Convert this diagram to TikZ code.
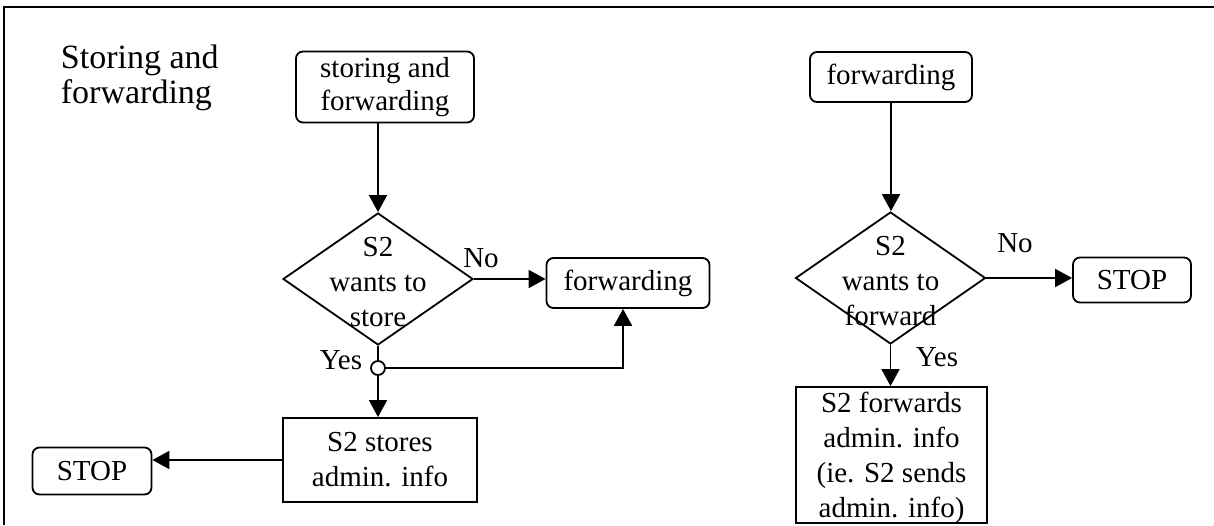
\documentclass[tikz,border=0pt]{standalone}
\usepackage{fontspec}
\setmainfont{Liberation Serif}
\usetikzlibrary{shapes.geometric,arrows.meta}
\begin{document}
\begin{tikzpicture}[x=1pt,y=-1pt,line width=1.8pt,
    every node/.style={font=\fontsize{29}{35}\selectfont,inner sep=0pt},
    rbox/.style={draw,rounded corners=7pt,align=center},
    sbox/.style={draw,align=center},
    decide/.style={draw,diamond,minimum width=190pt,minimum height=132pt},
    txt/.style={align=center},
    arr/.style={-{Triangle[length=17pt,width=18pt]}}]

    \useasboundingbox (0,0) rectangle (1214,525);
    \draw[line width=2.5pt] (1214,7) -- (4,7) -- (4,525);

    \node (title) at (60,44) [anchor=north west,align=left,
        font=\fontsize{34}{35}\selectfont] {Storing and\\forwarding};

    % left flow
    \node (sf) at (385,87) [rbox,minimum width=178pt,minimum height=71pt,
        font=\fontsize{29}{33}\selectfont] {storing and\\forwarding};
    \node (d1) at (378,279) [decide] {};
    \node (d1txt) at (378,282) [txt] {S2\\wants to\\store};
    \node (fw1) at (628,283) [rbox,minimum width=163pt,minimum height=50pt] {forwarding};
    \node (yesdot) at (378,368) [circle,draw,fill=white,minimum size=14pt] {};
    \node (store) at (380,460) [sbox,minimum width=194pt,minimum height=84pt,
        font=\fontsize{29}{35}\selectfont] {S2 stores\\admin. info};
    \node (stop1) at (92,471) [rbox,minimum width=119pt,minimum height=47pt] {STOP};
    \node (no1) at (481,258) {No};
    \node (yes1) at (341,360) {Yes};

    % right flow
    \node (fw2) at (891,77) [rbox,minimum width=162pt,minimum height=50pt] {forwarding};
    \node (d2) at (890.5,278) [decide] {};
    \node (d2txt) at (890.5,281) [txt] {S2\\wants to\\forward};
    \node (stop2) at (1132,280) [rbox,minimum width=118pt,minimum height=45pt] {STOP};
    \node (fwdbox) at (891.5,455) [sbox,minimum width=191pt,minimum height=136pt] {};
    \node (fwdtxt) at (891.5,458) [txt] {S2 forwards\\admin. info\\(ie. S2 sends\\admin. info)};
    \node (no2) at (1015,243) {No};
    \node (yes2) at (937,357) {Yes};

    \draw[arr] (sf.south -| d1.north) -- (d1.north);
    \draw[arr] (d1.east) -- (d1.east -| fw1.west);
    \draw (d1.south) -- (yesdot.north);
    \draw[arr] (yesdot.south) -- (store.north -| yesdot);
    \draw[arr] (yesdot.east) -| ([xshift=-5pt]fw1.south);
    \draw[arr] (store.west) -- (store.west -| stop1.east);

    \draw[arr] (fw2.south) -- (fw2.south |- d2.north);
    \draw[arr] (d2.east) -- (d2.east -| stop2.west);
    \draw[arr] (d2.south) -- (d2.south |- fwdbox.north);
\end{tikzpicture}
\end{document}
